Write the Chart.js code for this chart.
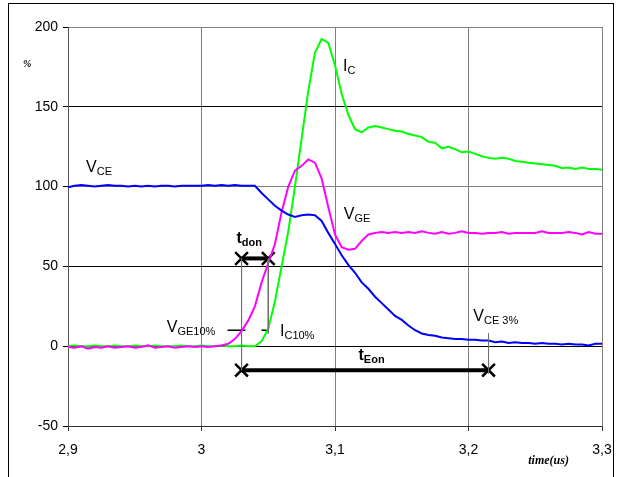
<!DOCTYPE html>
<html>
<head>
<meta charset="utf-8">
<script src="https://cdn.jsdelivr.net/npm/chart.js@4/dist/chart.umd.min.js"></script>
<style>
  html, body { margin: 0; padding: 0; background: #fff; }
  #wrap { position: relative; width: 623px; height: 477px; overflow: hidden; }
  #frame { position: absolute; left: 8px; top: 3px; width: 604px; height: 500px; border: 1px solid #000; pointer-events: none; }
</style>
</head>
<body>
<div id="wrap">
  <canvas id="switchChart" width="623" height="477"></canvas>
  <div id="frame"></div>
</div>
<script>
// time grid, us
const timeValues = [
  2.900, 2.905, 2.910, 2.915, 2.920, 2.925, 2.930, 2.935, 2.940, 2.945,
  2.950, 2.955, 2.960, 2.965, 2.970, 2.975, 2.980, 2.985, 2.990, 2.995,
  3.000, 3.005, 3.010, 3.015, 3.020, 3.025, 3.030, 3.035, 3.040, 3.045,
  3.050, 3.055, 3.060, 3.065, 3.070, 3.075, 3.080, 3.085, 3.090, 3.095,
  3.100, 3.105, 3.110, 3.115, 3.120, 3.125, 3.130, 3.135, 3.140, 3.145,
  3.150, 3.155, 3.160, 3.165, 3.170, 3.175, 3.180, 3.185, 3.190, 3.195,
  3.200, 3.205, 3.210, 3.215, 3.220, 3.225, 3.230, 3.235, 3.240, 3.245,
  3.250, 3.255, 3.260, 3.265, 3.270, 3.275, 3.280, 3.285, 3.290, 3.295,
  3.300,
]

const vceValues = [
  99.5, 100.5, 101, 100.5, 100, 100.5, 101, 100.5, 100.5, 100,
  100.5, 100, 100.5, 100, 100.5, 100.5, 100, 100.5, 100.5, 100.5,
  100.5, 101, 100.5, 101, 100.5, 101, 100.5, 100.5, 100.5, 96,
  92, 88, 85, 82.5, 81, 82, 82.5, 82, 78.5, 71,
  64, 57, 51, 46, 40, 36, 31, 27, 23, 19,
  16.5, 13, 10, 8, 7, 6.5, 5.5, 5, 4.5, 4.5,
  4, 4, 3.5, 3.5, 2.5, 3, 2, 2.5, 2, 2,
  1.5, 2, 1.5, 1.5, 1, 1.5, 1, 1, 0.5, 1.5,
  1.5,
]

const vgeValues = [
  -0.5, -1, 0, -1.5, -0.5, -1, 0, -1, -0.5, 0,
  -1, -0.5, 0.5, -1, -0.5, 0, -1, -0.5, 0, -0.5,
  0, -0.5, 0, 0.5, 1.5, 4.5, 9.5, 16, 25, 40,
  52, 64, 84, 100, 110, 113, 117, 115, 105, 87,
  70, 62, 60.5, 61, 66, 70, 71, 71.5, 71, 71.5,
  71, 71.5, 71, 72, 71, 70.5, 71.5, 70.5, 71, 72,
  71, 71, 70.5, 71, 71, 71.5, 70.5, 71, 71, 71,
  71, 72, 71, 71, 71, 71.5, 71, 70, 71.5, 70.5,
  70.5,
]

const icValues = [
  0, 0.5, 0, 0, 0.5, 0, 0, 0.5, 0, 0,
  0.5, 0, 0, 0.5, 0, 0, 0, 0.5, 0, 0,
  0.5, 0, 0, 0.5, 0, 0, 0.5, 0, 0, 3,
  11, 28, 50, 72, 100, 130, 160, 184, 192.5, 190,
  176, 158, 145, 136, 134, 137, 138, 137, 136, 135,
  134.5, 133, 132, 131, 128, 127.5, 124, 125, 123.5, 121.5,
  122, 120.5, 119, 118, 117.5, 118, 117.5, 116, 115.5, 115,
  114.5, 114, 113.5, 113, 111.5, 112, 111, 112, 111, 111,
  110.5,
]

const xTickValues = [2.9, 3.0, 3.1, 3.2, 3.3]
const xTickLabels = ['2,9', '3', '3,1', '3,2', '3,3']

// switching-time markers
const tdonPoints = [{ x: 3.03, y: 55 }, { x: 3.05, y: 55 }]
const teonPoints = [{ x: 3.03, y: -15 }, { x: 3.215, y: -15 }]
const guideStart = [{ x: 3.03, y: 55 }, { x: 3.03, y: -15 }]
const guideIc = [{ x: 3.05, y: 55 }, { x: 3.05, y: 8 }]
const guideVce = [{ x: 3.215, y: 8 }, { x: 3.215, y: -17 }]
const tenPercentLine = [{ x: 3.0195, y: 10 }, { x: 3.0502, y: 10 }]

const curveNotes = [
  { main: 'V', sub: 'CE', x: 2.9135, y: 109.4 },
  { main: 'I', sub: 'C', x: 3.106, y: 172.5 },
  { main: 'V', sub: 'GE', x: 3.1066, y: 79.4 },
  { main: 'V', sub: 'GE10%', x: 2.974, y: 8.75 },
  { main: 'I', sub: 'C10%', x: 3.0588, y: 6.25 },
  { main: 'V', sub: 'CE 3%', x: 3.2036, y: 15.6 },
  { main: 't', sub: 'don', x: 3.0262, y: 64.4, bold: true },
  { main: 't', sub: 'Eon', x: 3.1176, y: -8.75, bold: true },
]

const sansFont = '"Liberation Sans", Arial, sans-serif'
const serifFont = '"Liberation Serif", "Times New Roman", serif'

const pairUp = (values) => timeValues.map((t, i) => ({ x: t, y: values[i] }))

const curveLabels = {
  id: 'curveLabels',
  afterDatasetsDraw(chart) {
    const { ctx, chartArea } = chart
    const xs = chart.scales.x
    const ys = chart.scales.y
    ctx.save()
    ctx.fillStyle = '#000'
    ctx.textBaseline = 'alphabetic'
    ctx.textAlign = 'left'
    curveNotes.forEach((n) => {
      const weight = n.bold ? 'bold ' : ''
      let px = xs.getPixelForValue(n.x)
      const py = ys.getPixelForValue(n.y)
      ctx.font = `${weight}16px ${sansFont}`
      ctx.fillText(n.main, px, py)
      px += ctx.measureText(n.main).width
      ctx.font = `${weight}11px ${sansFont}`
      ctx.fillText(n.sub, px, py + 3)
    })
    // axis captions
    ctx.font = `italic bold 10px ${serifFont}`
    ctx.fillText('%', chartArea.left - 45, ys.getPixelForValue(175))
    ctx.font = `italic bold 12px ${serifFont}`
    ctx.textAlign = 'center'
    ctx.fillText('time(us)', xs.getPixelForValue(3.26), chartArea.bottom + 38)
    ctx.restore()
  },
}

const markerSet = (points, width) => ({
  data: points,
  borderColor: '#000',
  borderWidth: width,
  pointStyle: 'crossRot',
  pointRadius: 9,
  pointBorderWidth: 2.5,
  pointBorderColor: '#000',
})

const guideSet = (points) => ({
  data: points,
  borderColor: '#707070',
  borderWidth: 1,
  pointRadius: 0,
})

new Chart(document.getElementById('switchChart'), {
  type: 'line',
  data: {
    datasets: [
      guideSet(guideStart),
      guideSet(guideIc),
      guideSet(guideVce),
      { data: pairUp(vceValues), borderColor: '#0000ff', borderWidth: 2, pointRadius: 0 },
      { data: pairUp(vgeValues), borderColor: '#ff00ff', borderWidth: 2, pointRadius: 0 },
      { data: pairUp(icValues), borderColor: '#00ff00', borderWidth: 2, pointRadius: 0 },
      {
        data: tenPercentLine,
        borderColor: '#000',
        borderWidth: 1.5,
        borderDash: [18, 16, 9, 40],
        pointRadius: 0,
      },
      markerSet(tdonPoints, 4),
      markerSet(teonPoints, 4),
    ],
  },
  options: {
    responsive: false,
    animation: false,
    events: [],
    layout: { padding: { top: 27, right: 21, left: 0, bottom: 0 } },
    plugins: {
      legend: { display: false },
      tooltip: { enabled: false },
    },
    scales: {
      x: {
        type: 'linear',
        min: 2.9,
        max: 3.3,
        afterFit(scale) { scale.height = 51 },
        afterBuildTicks(scale) { scale.ticks = xTickValues.map((v) => ({ value: v })) },
        grid: { color: '#808080', lineWidth: 1, tickLength: 5, tickColor: '#333' },
        border: { color: '#333', width: 1 },
        ticks: {
          color: '#000',
          padding: 11,
          maxRotation: 0,
          font: { family: sansFont, size: 14 },
          callback: (value, index) => xTickLabels[index],
        },
      },
      y: {
        min: -50,
        max: 200,
        afterFit(scale) { scale.width = 68 },
        grid: {
          color: (c) => ([150, 50, 0].includes(c.tick.value) ? '#000' : '#808080'),
          lineWidth: 1,
          tickLength: 5,
          tickColor: '#000',
        },
        border: { color: '#555', width: 1 },
        ticks: {
          stepSize: 50,
          color: '#000',
          padding: 5,
          font: { family: sansFont, size: 14 },
        },
      },
    },
  },
  plugins: [curveLabels],
})
</script>
</body>
</html>
